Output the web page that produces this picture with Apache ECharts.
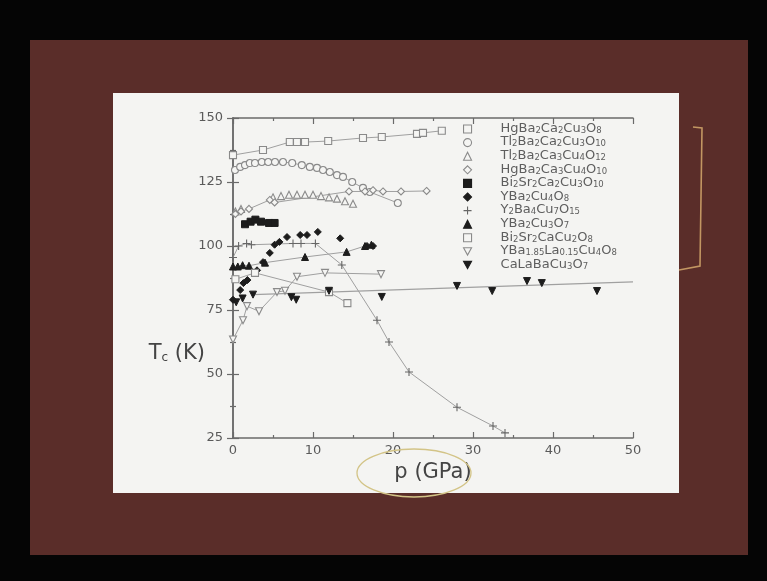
<!DOCTYPE html>
<html><head><meta charset="utf-8">
<script src="https://cdn.jsdelivr.net/npm/echarts@6/dist/echarts.min.js"></script>
<style>html,body{margin:0;padding:0;background:#050505}#c{width:767px;height:581px}</style>
</head><body><div id="c"></div>
<script>
// ---- data (pressure GPa, Tc K) ----
const xTicks = [0, 10, 20, 30, 40, 50];
const yTicks = [25, 50, 75, 100, 125, 150];
const names = ['HgBa2Ca2Cu3O8','Tl2Ba2Ca2Cu3O10','Tl2Ba2Ca3Cu4O12','HgBa2Ca3Cu4O10','Bi2Sr2Ca2Cu3O10','YBa2Cu4O8','Y2Ba4Cu7O15','YBa2Cu3O7','Bi2Sr2CaCu2O8','YBa1.85La0.15Cu4O8','CaLaBaCu3O7'];
const hg1223 = [[0,135.5],[3.75,137.5],[7.1,140.6],[8.0,140.6],[9.0,140.6],[11.9,141],[16.25,142.2],[18.6,142.6],[23,143.8],[23.75,144.2],[26.1,145]];
const tl2223 = [[0.25,129.7],[0.9,130.9],[1.5,131.6],[2.1,132.4],[2.75,132.4],[3.6,132.8],[4.4,132.8],[5.25,132.8],[6.25,132.8],[7.4,132.4],[8.6,131.6],[9.6,130.9],[10.5,130.5],[11.25,129.7],[12.1,128.9],[13,127.7],[13.75,127],[14.9,125],[16.25,122.7],[17.1,121.1],[20.6,116.8]];
const tl2234 = [[0.3,113.5],[1,114.5],[5,119],[6,119.5],[7,120],[8,120],[9,120],[10,120],[11,119.5],[12,119],[13,118.5],[14,117.5],[15,116.5]];
const hg1234 = [[0.3,112.5],[1,113.5],[2,114.5],[4.6,118],[5.2,117],[14.5,121.3],[16.5,121.3],[17.5,121.8],[18.75,121.3],[21,121.3],[24.2,121.5]];
const bi2223 = [[1.5,108.5],[2.2,109.5],[2.8,110.3],[3.5,109.5],[4.5,109],[5.2,109]];
const ybco124 = [[0,79],[0.9,82.8],[1.3,85.5],[1.8,86.7],[3.0,90.5],[3.75,93.7],[4.6,97.3],[5.2,100.5],[5.8,101.6],[6.75,103.5],[8.4,104.3],[9.25,104.3],[10.6,105.5],[13.4,103],[16.75,100],[17.5,100]];
const y247 = [[0,95.5],[0.7,100],[1.7,101],[2.3,100.5],[7.5,101],[8.5,101],[10.3,101],[13.6,92.6],[18,71],[19.5,62.5],[22,50.8],[28,37],[32.5,29.7],[34,27]];
const ybco123 = [[0,92],[0.6,92],[1.2,92.5],[2,92.3],[4,93.5],[9,95.7],[14.2,97.7],[16.5,100],[17.3,100.5]];
const bi2212 = [[0.3,87],[2.75,89.5],[12,82],[14.3,77.7]];
const ybala = [[0,63.5],[1.25,71],[1.75,76.5],[3.25,74.5],[5.5,82],[6.5,82.5],[8,88],[11.5,89.5],[18.5,89]];
const calaba = [[0.4,78],[1.2,79.5],[2.5,81],[7.3,80],[7.9,79],[12,82.5],[18.6,80.1],[28,84.4],[32.4,82.4],[36.75,86.3],[38.6,85.5],[45.5,82.4]];
const calabaFit = [[2.5,81],[50,86]];

// ---- styling ----
const OPEN = '#8a8a8a', FILL = '#1c1c1c', LINE = '#a0a0a0';
const downTri = 'path://M0,0L10,0L5,9Z';
const plus = 'path://M5,0L5,10M0,5L10,5';
const xsq = 'path://M0,0L10,0L10,10L0,10Z';
const seriesData = [hg1223, tl2223, tl2234, hg1234, bi2223, ybco124, y247, ybco123, bi2212, ybala, calaba];
const symbols = ['rect','circle','triangle','diamond',xsq,'diamond',plus,'triangle','rect',downTri,downTri];
const filled = [false,false,false,false,true,true,false,true,false,false,true];
const hasLine = [true,true,false,true,false,false,true,true,true,true,false];

const series = [];
seriesData.forEach((d, i) => {
  if (hasLine[i]) {
    series.push({type:'line', name:'_l'+i, data:d, symbol:'none', z:1,
      lineStyle:{color:LINE, width:1}, silent:true});
  }
  series.push({type:'scatter', name:names[i], data:d, symbol:symbols[i],
    symbolSize: i===6 ? 8 : 7, z:3,
    itemStyle: filled[i] ? {color:FILL, borderColor:FILL, borderWidth:1, opacity:1}
                         : {color: i===6 ? 'rgba(0,0,0,0)' : '#f5f5f3', borderColor: i===6?'#666':OPEN, borderWidth:1.1, opacity:1}});
});
series.push({type:'line', name:'_fit', data:calabaFit, symbol:'none', z:1, lineStyle:{color:LINE, width:1.2}, silent:true});

function fmt(name){
  return '{g|}' + name.replace(/(\d+(?:\.\d+)?)|([^\d]+)/g, (m, d, t) => d ? '{s|'+d+'}' : '{n|'+t+'}');
}
const FONT = 'DejaVu Sans';
const axisCommon = {
  min: 0, max: 50, interval: 10,
  axisLine:{lineStyle:{color:'#6a6a6a', width:1.5}},
  axisTick:{inside:true, length:6, lineStyle:{color:'#6a6a6a', width:1.2}},
  minorTick:{show:true, splitNumber:2, length:3, lineStyle:{color:'#6a6a6a', width:1.2}},
  splitLine:{show:false}
};
const chart = echarts.init(document.getElementById('c'), null, {renderer:'canvas'});
chart.setOption({
  backgroundColor:'#050505',
  animation:false,
  graphic:[
    {type:'rect', z:-10, shape:{x:30, y:40, width:718, height:515}, style:{fill:'#5a2d29'}},
    {type:'rect', z:-9, shape:{x:113, y:93, width:566, height:400}, style:{fill:'#f4f4f2'}},
    {type:'polyline', z:10, shape:{points:[[693,127],[702,128],[700,266],[679,270]]}, style:{stroke:'#c29662', lineWidth:1.6, fill:null}},
    {type:'ellipse', z:10, shape:{cx:414, cy:473, rx:57, ry:24}, style:{stroke:'#d3c487', lineWidth:1.3, fill:null}}
  ],
  grid:{left:233, right:134, top:118, bottom:143},
  xAxis:[
    Object.assign({}, axisCommon, {type:'value', position:'bottom',
      name:'p (GPa)', nameLocation:'middle', nameGap:18,
      nameTextStyle:{fontFamily:FONT, fontSize:21, color:'#444', verticalAlign:'top'},
      axisLabel:{fontFamily:FONT, fontSize:13, color:'#5a5a5a', margin:6, formatter:v => xTicks.includes(v) ? String(v) : ''}}),
    Object.assign({}, axisCommon, {type:'value', position:'top', axisLabel:{show:false}})
  ],
  yAxis:[
    Object.assign({}, axisCommon, {type:'value', min:25, max:150, interval:25, position:'left',
      name:'{t|T}{c|c}{t| (K)}', nameLocation:'middle', nameGap:28, nameRotate:0, nameMoveOverlap:false,
      nameTextStyle:{fontFamily:FONT, color:'#444', align:'right', padding:[150,0,0,0],
        rich:{t:{fontFamily:FONT, fontSize:21, color:'#444', lineHeight:22, verticalAlign:'bottom'},
              c:{fontFamily:FONT, fontSize:12, color:'#444', lineHeight:10, verticalAlign:'bottom'}}},
      axisLabel:{fontFamily:FONT, fontSize:13, color:'#5a5a5a', margin:10, formatter:v => yTicks.includes(v) ? String(v) : ''}}),
    Object.assign({}, axisCommon, {type:'value', min:25, max:150, interval:25, position:'right', axisLabel:{show:false}})
  ],
  legend:{
    orient:'vertical', left:458, top:117, itemWidth:8, itemHeight:8, itemGap:0.6,
    itemStyle:{borderWidth:1.1},
    data: names.map((n, i) => ({name:n, icon: symbols[i]})),
    formatter: fmt,
    textStyle:{fontFamily:FONT, color:'#666',
      rich:{g:{width:24}, n:{fontFamily:FONT, fontSize:13, color:'#5e5e5e', lineHeight:12, verticalAlign:'bottom'},
            s:{fontFamily:FONT, fontSize:8.5, color:'#5e5e5e', lineHeight:7, verticalAlign:'bottom'}}}
  },
  series: series
});
</script></body></html>
